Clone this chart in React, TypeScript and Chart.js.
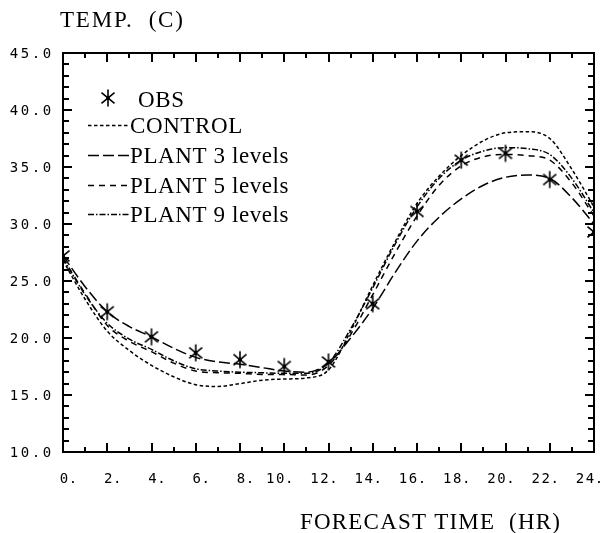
import React, { useEffect, useRef } from "react";
import { Chart, registerables } from "chart.js";

Chart.register(...registerables);

// Forecast hours (every hour) for the model runs
const hours = [0, 1, 2, 3, 4, 5, 6, 7, 8, 9, 10, 11, 12, 13, 14, 15, 16, 17, 18, 19, 20, 21, 22, 23, 24];

// Observed temperatures every two hours
const obsHours = [0, 2, 4, 6, 8, 10, 12, 14, 16, 18, 20, 22, 24];
const obsTemp = [27.2, 22.3, 20.1, 18.7, 18.1, 17.5, 17.9, 23.0, 31.1, 35.6, 36.2, 33.9, 29.3];

// Model runs
const controlTemp = [26.8, 23.4, 20.6, 18.9, 17.6, 16.6, 15.9, 15.75, 16.0, 16.3, 16.4, 16.5, 17.2, 20.6, 24.6, 28.4, 31.8, 34.2, 36.0, 37.3, 38.0, 38.1, 37.5, 34.8, 31.5];
const plant3Temp = [27.2, 24.5, 22.3, 21.0, 20.1, 19.1, 18.3, 17.9, 17.7, 17.4, 17.1, 17.0, 17.8, 20.0, 22.6, 25.7, 28.5, 30.6, 32.2, 33.4, 34.1, 34.3, 34.0, 32.3, 30.0];
const plant5Temp = [27.0, 23.9, 21.1, 19.7, 18.8, 17.8, 17.1, 16.95, 16.9, 16.8, 16.8, 16.75, 17.6, 20.3, 23.8, 27.4, 30.7, 33.4, 35.1, 35.9, 36.1, 36.0, 35.6, 33.6, 30.7];
const plant9Temp = [27.0, 23.8, 21.3, 19.9, 19.0, 18.0, 17.3, 17.1, 17.0, 16.95, 16.9, 16.9, 17.8, 20.8, 24.4, 28.2, 31.5, 34.0, 35.6, 36.4, 36.7, 36.6, 36.1, 34.0, 31.0];

// Axis labelling
const yTicks = [10, 15, 20, 25, 30, 35, 40, 45];
const xTicks = [0, 2, 4, 6, 8, 10, 12, 14, 16, 18, 20, 22, 24];
const yTitle = "TEMP.  (C)";
const xTitle = "FORECAST TIME  (HR)";

const seriesNames = ["OBS", "CONTROL", "PLANT 3 levels", "PLANT 5 levels", "PLANT 9 levels"];
const dashes: number[][] = [[], [3.5, 2.5], [11, 4], [6, 5], [6, 2, 1.5, 2]];

const SERIF = "'Liberation Serif', serif";
const MONO = "'DejaVu Sans Mono', monospace";

function makeAsterisk(): HTMLCanvasElement {
  const c = document.createElement("canvas");
  const s = 20;
  c.width = s;
  c.height = s;
  const g = c.getContext("2d")!;
  const r = 8.5;
  const cx = s / 2;
  g.strokeStyle = "#000";
  g.lineWidth = 1.6;
  g.beginPath();
  for (const a of [90, 40, 140]) {
    const rad = (a * Math.PI) / 180;
    g.moveTo(cx - r * Math.cos(rad), cx - r * Math.sin(rad));
    g.lineTo(cx + r * Math.cos(rad), cx + r * Math.sin(rad));
  }
  g.stroke();
  g.fillStyle = "#000";
  g.beginPath();
  g.arc(cx, cx, 2, 0, Math.PI * 2);
  g.fill();
  return c;
}

export default function App() {
  const ref = useRef<HTMLCanvasElement | null>(null);

  useEffect(() => {
    const canvas = ref.current;
    if (!canvas) return;
    const star = makeAsterisk();

    const pts = (ys: number[], xs: number[]) => ys.map((y, i) => ({ x: xs[i], y }));

    const lineSet = (idx: number, ys: number[]) => ({
      label: seriesNames[idx],
      data: pts(ys, hours),
      borderColor: "#000",
      borderWidth: 1.5,
      borderDash: dashes[idx],
      pointRadius: 0,
      fill: false,
      cubicInterpolationMode: "monotone" as const,
      order: 1,
    });

    const framePlugin = {
      id: "frameAndText",
      afterDraw(chart: any) {
        const ctx: CanvasRenderingContext2D = chart.ctx;
        const xs = chart.scales.x;
        const ys = chart.scales.y;
        const left = Math.round(xs.getPixelForValue(0));
        const right = Math.round(xs.getPixelForValue(24));
        const top = Math.round(ys.getPixelForValue(45));
        const bottom = Math.round(ys.getPixelForValue(10));
        ctx.save();
        ctx.setLineDash([]);
        ctx.globalAlpha = 1;
        ctx.globalCompositeOperation = "source-over";
        ctx.fillStyle = "#000";

        // ticks on all four sides, pointing inward
        for (let v = 10; v <= 45; v++) {
          const y = Math.round(ys.getPixelForValue(v));
          const len = v % 5 === 0 ? 9 : 6;
          ctx.fillRect(left, y - 1, len, 2);
          ctx.fillRect(right - len, y - 1, len, 2);
        }
        for (let h = 0; h <= 24; h++) {
          const x = Math.round(xs.getPixelForValue(h));
          const len = h % 2 === 0 ? 9 : 5;
          ctx.fillRect(x - 1, bottom - len, 2, len);
          ctx.fillRect(x - 1, top, 2, len);
        }

        // frame
        const w = 2;
        ctx.fillRect(left - 1, top - 1, right - left + w, w);
        ctx.fillRect(left - 1, bottom - 1, right - left + w, w);
        ctx.fillRect(left - 1, top - 1, w, bottom - top + w);
        ctx.fillRect(right - 1, top - 1, w, bottom - top + w);

        // y tick labels, fixed-pitch characters
        ctx.font = `14px ${MONO}`;
        ctx.textAlign = "center";
        ctx.textBaseline = "middle";
        for (const v of yTicks) {
          const y = ys.getPixelForValue(v) + 1;
          const s = v.toFixed(1);
          const lastCenter = 47;
          for (let i = 0; i < s.length; i++) {
            ctx.fillText(s[i], lastCenter - 11 * (s.length - 1 - i), y);
          }
        }

        // x tick labels
        for (const h of xTicks) {
          const x = xs.getPixelForValue(h);
          const d = String(h);
          const lastDigit = x + (d.length === 1 ? 1 : -4);
          for (let i = 0; i < d.length; i++) {
            ctx.fillText(d[i], lastDigit - 10 * (d.length - 1 - i), 479);
          }
          ctx.fillText(".", lastDigit + 9, 479);
        }

        // axis titles
        ctx.font = `23px ${SERIF}`;
        ctx.textAlign = "left";
        ctx.textBaseline = "alphabetic";
        (ctx as any).letterSpacing = "1.8px";
        ctx.fillText(yTitle, 60, 27);
        (ctx as any).letterSpacing = "1.2px";
        ctx.fillText(xTitle, 300, 529);

        // legend
        ctx.drawImage(star, 108 - star.width / 2, 98 - star.height / 2);
        ctx.font = `23px ${SERIF}`;
        (ctx as any).letterSpacing = "0.6px";
        const rows = [107, 133, 163, 193, 222];
        ctx.fillText(seriesNames[0], 138, rows[0]);
        ctx.strokeStyle = "#000";
        ctx.lineWidth = 1.5;
        for (let i = 1; i < 5; i++) {
          const ly = rows[i] - 7.5;
          ctx.setLineDash(dashes[i]);
          ctx.beginPath();
          ctx.moveTo(88, ly);
          ctx.lineTo(129, ly);
          ctx.stroke();
          ctx.setLineDash([]);
          ctx.fillText(seriesNames[i], 130, rows[i]);
        }
        (ctx as any).letterSpacing = "0px";
        ctx.restore();
      },
    };

    const chart = new Chart(canvas, {
      type: "line",
      data: {
        datasets: [
          {
            label: seriesNames[0],
            data: pts(obsTemp, obsHours),
            showLine: false,
            pointStyle: star,
            pointRadius: 10,
            borderColor: "#000",
            backgroundColor: "#000",
            order: 0,
          } as any,
          lineSet(1, controlTemp),
          lineSet(2, plant3Temp),
          lineSet(3, plant5Temp),
          lineSet(4, plant9Temp),
        ],
      },
      options: {
        animation: false,
        responsive: false,
        devicePixelRatio: 1,
        layout: { padding: { left: 63, right: 11, top: 53, bottom: 81 } },
        scales: {
          x: { type: "linear", min: 0, max: 24, display: false },
          y: { type: "linear", min: 10, max: 45, display: false },
        },
        plugins: {
          legend: { display: false },
          tooltip: { enabled: false },
        },
        elements: { line: { borderCapStyle: "butt" } },
      },
      plugins: [framePlugin],
    });

    return () => chart.destroy();
  }, []);

  return (
    <div style={{ position: "fixed", left: 0, top: 0, width: 605, height: 533, background: "#fff" }}>
      <canvas ref={ref} width={605} height={533} style={{ width: 605, height: 533, display: "block" }} />
    </div>
  );
}
